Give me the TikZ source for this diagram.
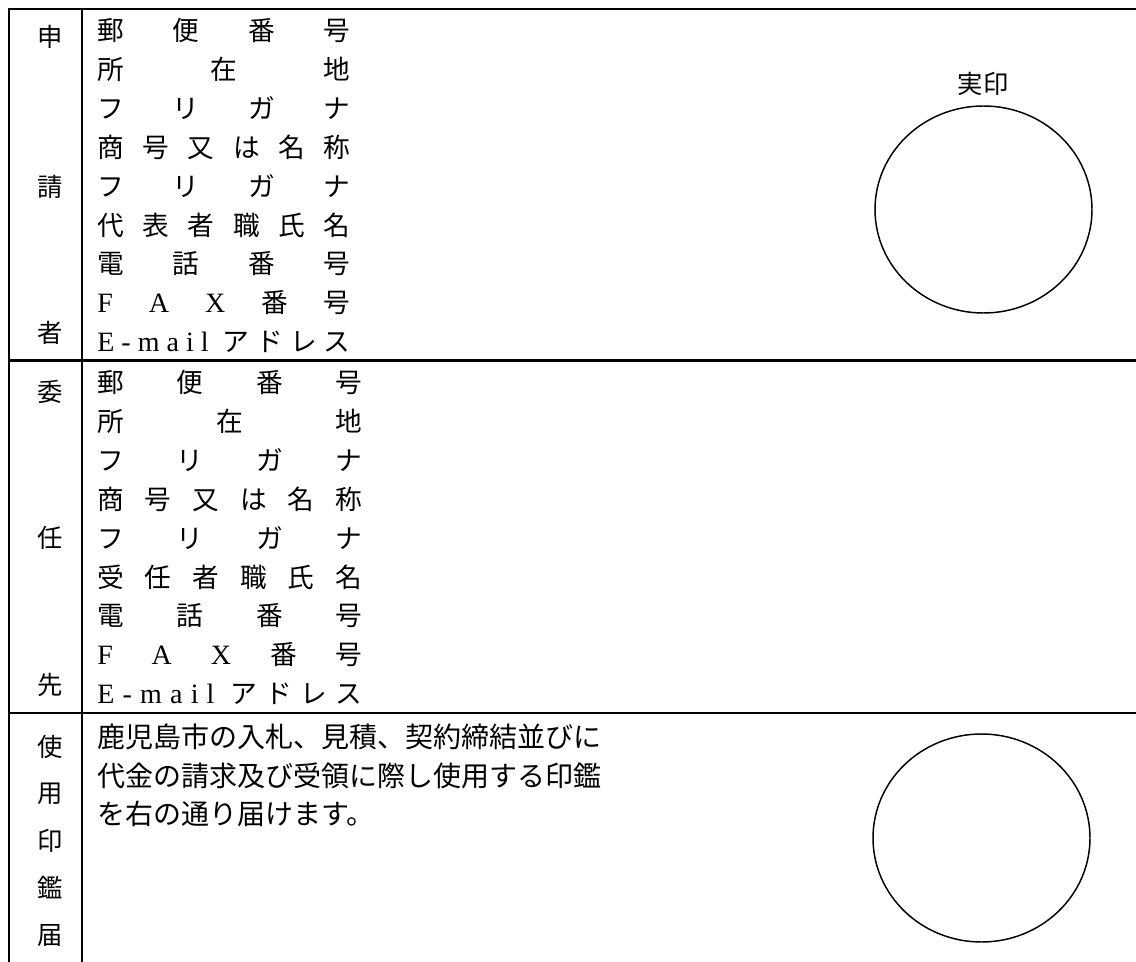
\documentclass[tikz,border=0pt]{standalone}
\usepackage{fontspec}
\setmainfont{Liberation Serif}
\newfontfamily\jpfont{Noto Sans CJK JP}
\newcommand\spreadA[1]{\makebox[190pt]{#1}}
\newcommand\spreadB[1]{\makebox[198.75pt]{#1}}
\newcommand\lat[1]{{\rmfamily\fontsize{21pt}{24pt}\selectfont #1}}
\tikzset{
  rowtext/.style={anchor=west,inner sep=0pt,font=\jpfont\fontsize{20pt}{24pt}\selectfont},
  sidetext/.style={inner sep=0.75pt,font=\jpfont\fontsize{19pt}{24pt}\selectfont},
  rule/.style={line width=1.6pt},
}
\begin{document}
\begin{tikzpicture}[x=0.75pt,y=0.75pt,yscale=-1,xscale=1]
    \useasboundingbox (0,0) rectangle (1136,962); %diagram is 1136 x 962

    %Shape: Table frame
    \coordinate (tl) at (9,9); \coordinate (tr) at (1136,9); \coordinate (bl) at (9,962);
    \coordinate (mt) at (82,9); \coordinate (mb) at (82,962);
    \coordinate (hAl) at (9,360.5); \coordinate (hAr) at (1136,360.5);
    \coordinate (hBl) at (9,713); \coordinate (hBr) at (1136,713);
    \draw [rule] (tr) -- (tl) -- (bl) ;
    \draw [rule] (mt) -- (mb) ;
    \draw [rule] (hAl) -- (hAr) ;
    \draw [rule] (hBl) -- (hBr) ;
    %Shape: Seal circles
    \draw [line width=1.1pt] (983.5,209.5) ellipse (108.5 and 103.5) ;
    \draw [line width=1.1pt] (981.5,838) ellipse (108.5 and 104) ;

    % Text Node
    \draw (983,84) node (jitsuin) [sidetext] {実印};

    % Side labels
    \draw (50,37) node (sideA1) [sidetext] {申};
    \draw (50,187) node (sideA2) [sidetext] {請};
    \draw (50,333) node (sideA3) [sidetext] {者};
    \draw (50,392) node (sideB1) [sidetext] {委};
    \draw (50,538) node (sideB2) [sidetext] {任};
    \draw (50,685) node (sideB3) [sidetext] {先};
    \draw (50,747) node (sideC1) [sidetext] {使};
    \draw (50,794) node (sideC2) [sidetext] {用};
    \draw (50,841) node (sideC3) [sidetext] {印};
    \draw (50,888) node (sideC4) [sidetext] {鑑};
    \draw (50,935) node (sideC5) [sidetext] {届};

    % Text Node: applicant rows
    \draw (97,30) node (appZip) [rowtext] {\spreadA{郵\hfill 便\hfill 番\hfill 号}};
    \draw (97,69) node (appAddr) [rowtext] {\spreadA{所\hfill 在\hfill 地}};
    \draw (97,108) node (appKanaA) [rowtext] {\spreadA{フ\hfill リ\hfill ガ\hfill ナ}};
    \draw (97,147) node (appName) [rowtext] {\spreadA{商\hfill 号\hfill 又\hfill は\hfill 名\hfill 称}};
    \draw (97,186) node (appKanaB) [rowtext] {\spreadA{フ\hfill リ\hfill ガ\hfill ナ}};
    \draw (97,225) node (appRep) [rowtext] {\spreadA{代\hfill 表\hfill 者\hfill 職\hfill 氏\hfill 名}};
    \draw (97,264) node (appTel) [rowtext] {\spreadA{電\hfill 話\hfill 番\hfill 号}};
    \draw (97,303) node (appFax) [rowtext] {\spreadA{\lat{F}\hfill\lat{A}\hfill\lat{X}\hfill 番\hfill 号}};
    \draw (97,342) node (appMail) [rowtext] {\spreadA{\lat{E}\hfill\lat{-}\hfill\lat{m}\hfill\lat{a}\hfill\lat{i}\hfill\lat{l}\hfill\hfill ア\hfill ド\hfill レ\hfill ス}};

    % Text Node: agent rows
    \draw (97,382) node (agtZip) [rowtext] {\spreadB{郵\hfill 便\hfill 番\hfill 号}};
    \draw (97,421) node (agtAddr) [rowtext] {\spreadB{所\hfill 在\hfill 地}};
    \draw (97,460) node (agtKanaA) [rowtext] {\spreadB{フ\hfill リ\hfill ガ\hfill ナ}};
    \draw (97,499) node (agtName) [rowtext] {\spreadB{商\hfill 号\hfill 又\hfill は\hfill 名\hfill 称}};
    \draw (97,538) node (agtKanaB) [rowtext] {\spreadB{フ\hfill リ\hfill ガ\hfill ナ}};
    \draw (97,577) node (agtRep) [rowtext] {\spreadB{受\hfill 任\hfill 者\hfill 職\hfill 氏\hfill 名}};
    \draw (97,616) node (agtTel) [rowtext] {\spreadB{電\hfill 話\hfill 番\hfill 号}};
    \draw (97,655) node (agtFax) [rowtext] {\spreadB{\lat{F}\hfill\lat{A}\hfill\lat{X}\hfill 番\hfill 号}};
    \draw (97,694) node (agtMail) [rowtext] {\spreadB{\lat{E}\hfill\lat{-}\hfill\lat{m}\hfill\lat{a}\hfill\lat{i}\hfill\lat{l}\hfill\hfill ア\hfill ド\hfill レ\hfill ス}};

    % Text Node: seal notice
    \draw (97,737) node (useA) [rowtext, font=\jpfont\fontsize{21pt}{24pt}\selectfont] {鹿児島市の入札、見積、契約締結並びに};
    \draw (97,776) node (useB) [rowtext, font=\jpfont\fontsize{21pt}{24pt}\selectfont] {代金の請求及び受領に際し使用する印鑑};
    \draw (97,814) node (useC) [rowtext, font=\jpfont\fontsize{21pt}{24pt}\selectfont] {を右の通り届けます。};

\end{tikzpicture}
\end{document}
